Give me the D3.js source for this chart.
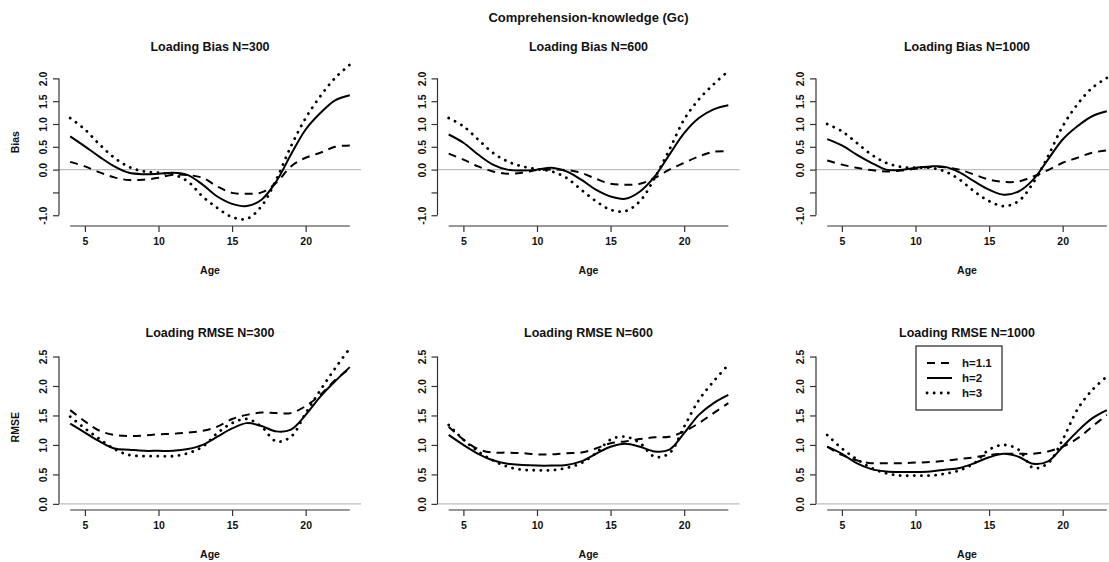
<!DOCTYPE html>
<html>
<head>
<meta charset="utf-8">
<script src="https://cdn.jsdelivr.net/npm/d3@7"></script>
<style>
  html, body { margin: 0; padding: 0; background: #fff; }
  svg { display: block; }
  text { font-family: "Liberation Sans", Arial, sans-serif; font-weight: bold; fill: #111; }
</style>
</head>
<body>
<svg id="chart" width="1109" height="562"></svg>
<script>
// ---------- DATA ----------
const mainTitle = "Comprehension-knowledge (Gc)";
const ages = [4,5,6,7,8,9,10,11,12,13,14,15,16,17,18,19,20,21,22,23];
const xTicks = [5, 10, 15, 20];
const seriesNames = ["h=1.1", "h=2", "h=3"];

const biasTicks = [-1, -0.5, 0, 0.5, 1, 1.5, 2];
const biasTickLabels = ["-1.0", "", "0.0", "0.5", "1.0", "1.5", "2.0"];
const rmseTicks = [0, 0.5, 1, 1.5, 2, 2.5];
const rmseTickLabels = ["0.0", "0.5", "1.0", "1.5", "2.0", "2.5"];

const biasTitles = ["Loading Bias N=300", "Loading Bias N=600", "Loading Bias N=1000"];
const rmseTitles = ["Loading RMSE N=300", "Loading RMSE N=600", "Loading RMSE N=1000"];

// Bias, N=300
const bias300_h11 = [0.17,0.07,-0.06,-0.17,-0.23,-0.22,-0.18,-0.11,-0.12,-0.18,-0.37,-0.51,-0.53,-0.50,-0.29,0.07,0.26,0.37,0.50,0.53];
const bias300_h2  = [0.73,0.51,0.28,0.07,-0.07,-0.10,-0.09,-0.07,-0.12,-0.33,-0.59,-0.75,-0.80,-0.66,-0.26,0.33,0.88,1.24,1.52,1.63];
const bias300_h3  = [1.13,0.88,0.55,0.26,0.06,-0.04,-0.07,-0.11,-0.26,-0.59,-0.84,-1.04,-1.08,-0.80,-0.22,0.51,1.13,1.61,2.01,2.30];
// Bias, N=600
const bias600_h11 = [0.35,0.22,0.07,-0.04,-0.09,-0.07,-0.01,0.00,-0.01,-0.07,-0.20,-0.31,-0.33,-0.31,-0.18,0.00,0.15,0.29,0.39,0.40];
const bias600_h2  = [0.77,0.59,0.33,0.11,0.00,-0.02,0.00,0.04,-0.04,-0.22,-0.44,-0.59,-0.64,-0.48,-0.15,0.33,0.80,1.13,1.32,1.41];
const bias600_h3  = [1.13,0.95,0.66,0.37,0.18,0.07,0.01,-0.04,-0.18,-0.44,-0.69,-0.88,-0.91,-0.69,-0.18,0.44,1.10,1.54,1.87,2.16];
// Bias, N=1000
const bias1000_h11 = [0.20,0.11,0.04,-0.01,-0.04,-0.02,0.02,0.06,0.05,0.00,-0.11,-0.22,-0.27,-0.26,-0.15,-0.01,0.15,0.26,0.37,0.42];
const bias1000_h2  = [0.67,0.53,0.33,0.15,0.00,-0.01,0.04,0.07,0.06,-0.06,-0.26,-0.44,-0.55,-0.48,-0.22,0.22,0.66,0.95,1.17,1.28];
const bias1000_h3  = [1.00,0.84,0.59,0.33,0.15,0.06,0.04,0.04,-0.04,-0.22,-0.48,-0.69,-0.80,-0.69,-0.29,0.29,0.95,1.43,1.79,2.01];

// RMSE, N=300
const rmse300_h11 = [1.59,1.40,1.24,1.17,1.15,1.16,1.18,1.19,1.21,1.24,1.31,1.44,1.51,1.55,1.54,1.54,1.66,1.85,2.10,2.30];
const rmse300_h2  = [1.36,1.21,1.06,0.94,0.92,0.90,0.90,0.90,0.93,1.00,1.14,1.28,1.37,1.32,1.23,1.26,1.51,1.82,2.08,2.32];
const rmse300_h3  = [1.48,1.28,1.10,0.93,0.83,0.81,0.81,0.81,0.86,0.97,1.20,1.37,1.44,1.31,1.06,1.14,1.54,1.93,2.30,2.64];
// RMSE, N=600
const rmse600_h11 = [1.31,1.09,0.93,0.87,0.87,0.86,0.84,0.84,0.86,0.87,0.94,1.03,1.06,1.10,1.13,1.14,1.23,1.37,1.54,1.71];
const rmse600_h2  = [1.17,1.00,0.85,0.74,0.68,0.66,0.65,0.65,0.66,0.72,0.85,0.97,1.02,0.97,0.89,0.92,1.20,1.51,1.71,1.85];
const rmse600_h3  = [1.34,1.09,0.89,0.74,0.63,0.58,0.57,0.57,0.61,0.69,0.86,1.09,1.14,1.03,0.80,0.86,1.31,1.76,2.08,2.36];
// RMSE, N=1000
const rmse1000_h11 = [0.97,0.83,0.74,0.69,0.69,0.69,0.70,0.71,0.73,0.76,0.79,0.83,0.85,0.85,0.85,0.89,0.97,1.11,1.31,1.51];
const rmse1000_h2  = [0.97,0.85,0.69,0.59,0.55,0.54,0.54,0.55,0.58,0.61,0.69,0.79,0.85,0.80,0.68,0.72,0.97,1.23,1.45,1.59];
const rmse1000_h3  = [1.17,0.94,0.76,0.61,0.52,0.48,0.48,0.48,0.51,0.57,0.69,0.92,1.00,0.92,0.61,0.69,1.09,1.60,1.93,2.16];

// ---------- LAYOUT ----------
const svg = d3.select("#chart");
const colLeft = [59, 437.5, 816];
const plotW = 302;
const rows = [
  { top: 58.5, bottom: 226, domain: [-1.236, 2.436], ticks: biasTicks, labels: biasTickLabels,
    ylab: "Bias", titles: biasTitles,
    data: [[bias300_h11, bias300_h2, bias300_h3], [bias600_h11, bias600_h2, bias600_h3], [bias1000_h11, bias1000_h2, bias1000_h3]] },
  { top: 344.5, bottom: 510, domain: [-0.104, 2.704], ticks: rmseTicks, labels: rmseTickLabels,
    ylab: "RMSE", titles: rmseTitles,
    data: [[rmse300_h11, rmse300_h2, rmse300_h3], [rmse600_h11, rmse600_h2, rmse600_h3], [rmse1000_h11, rmse1000_h2, rmse1000_h3]] }
];
const styles = [
  { dash: "8,6", width: 2, cap: "butt" },
  { dash: null, width: 2, cap: "butt" },
  { dash: "0.1,7", width: 2.8, cap: "round" }
];
const axisColor = "#333";

// main title
svg.append("text").attr("x", colLeft[1] + plotW / 2).attr("y", 22)
  .attr("text-anchor", "middle").style("font-size", "13px").text(mainTitle);

const xPad = (d3.max(ages) - d3.min(ages)) * 0.04;

rows.forEach((row, ri) => {
  row.data.forEach((panelSeries, ci) => {
    const left = colLeft[ci];
    const x = d3.scaleLinear().domain([d3.min(ages) - xPad, d3.max(ages) + xPad]).range([left, left + plotW]);
    const y = d3.scaleLinear().domain(row.domain).range([row.bottom, row.top]);
    const g = svg.append("g");

    // reference line at 0
    g.append("line").attr("x1", left).attr("x2", left + plotW)
      .attr("y1", y(0)).attr("y2", y(0)).attr("stroke", "#bdbdbd").attr("stroke-width", 1.2);

    // x axis
    const xa = g.append("g").attr("transform", `translate(0,${row.bottom})`)
      .call(d3.axisBottom(x).tickValues(xTicks).tickSize(6).tickPadding(6).tickFormat(d3.format("d")));
    xa.select(".domain").attr("d", `M${x(d3.min(ages))},0H${x(d3.max(ages))}`).attr("stroke", axisColor).attr("stroke-width", 1.2);
    xa.selectAll(".tick line").attr("stroke", axisColor).attr("stroke-width", 1.2);
    xa.selectAll(".tick text").style("font-size", "10.5px").style("font-family", "Liberation Sans, Arial, sans-serif").style("font-weight", "bold").attr("fill", "#111");

    // y axis
    const ya = g.append("g").attr("transform", `translate(${left},0)`)
      .call(d3.axisLeft(y).tickValues(row.ticks).tickSize(6).tickFormat((d, i) => row.labels[i]));
    ya.select(".domain").attr("d", `M0,${y(d3.min(row.ticks))}V${y(d3.max(row.ticks))}`).attr("stroke", axisColor).attr("stroke-width", 1.2);
    ya.selectAll(".tick line").attr("stroke", axisColor).attr("stroke-width", 1.2);
    ya.selectAll(".tick text")
      .attr("x", null).attr("dy", null)
      .attr("transform", "translate(-12,0) rotate(-90)")
      .attr("text-anchor", "middle").attr("y", 0)
      .style("font-size", "10.5px").style("font-family", "Liberation Sans, Arial, sans-serif").style("font-weight", "bold").attr("fill", "#111");

    // titles
    g.append("text").attr("x", left + plotW / 2).attr("y", row.top - 7.5)
      .attr("text-anchor", "middle").style("font-size", "12.5px").text(row.titles[ci]);
    g.append("text").attr("x", left + plotW / 2).attr("y", row.bottom + 48)
      .attr("text-anchor", "middle").style("font-size", "10.5px").text("Age");
    if (ci === 0) {
      g.append("text").attr("transform", `translate(${left - 40},${(row.top + row.bottom) / 2}) rotate(-90)`)
        .attr("text-anchor", "middle").style("font-size", "10.5px").text(row.ylab);
    }

    // series
    const line = d3.line().x((d, i) => x(ages[i])).y(d => y(d)).curve(d3.curveCatmullRom.alpha(0.5));
    panelSeries.forEach((vals, si) => {
      const st = styles[si];
      g.append("path").datum(vals).attr("d", line).attr("fill", "none")
        .attr("stroke", "#000").attr("stroke-width", st.width)
        .attr("stroke-linecap", st.cap)
        .attr("stroke-dasharray", st.dash);
    });
  });
});

// legend (panel RMSE N=1000)
const lg = svg.append("g");
lg.append("rect").attr("x", 916).attr("y", 346).attr("width", 86).attr("height", 64)
  .attr("fill", "#fff").attr("stroke", "#222").attr("stroke-width", 1.2);
const legY = [363, 378, 393];
seriesNames.forEach((nm, i) => {
  const st = styles[i];
  lg.append("line").attr("x1", 927).attr("x2", 952).attr("y1", legY[i]).attr("y2", legY[i])
    .attr("stroke", "#000").attr("stroke-width", st.width).attr("stroke-linecap", st.cap)
    .attr("stroke-dasharray", st.dash);
  lg.append("text").attr("x", 962).attr("y", legY[i] + 4).style("font-size", "11.5px").text(nm);
});
</script>
</body>
</html>
